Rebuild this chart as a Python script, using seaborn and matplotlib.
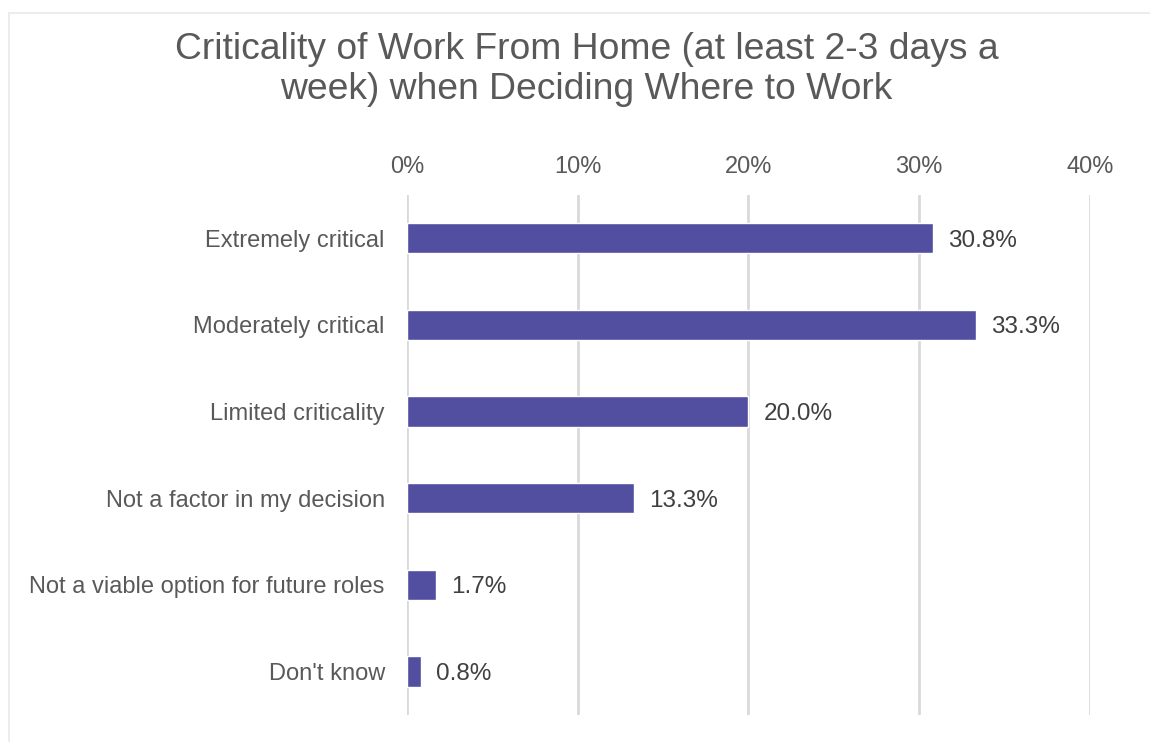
import matplotlib
matplotlib.use("Agg")
import matplotlib.pyplot as plt
import seaborn as sns
import pandas as pd
from matplotlib.patches import Rectangle

categories = ["Extremely critical", "Moderately critical", "Limited criticality",
              "Not a factor in my decision", "Not a viable option for future roles",
              "Don't know"]
values = [30.8, 33.3, 20.0, 13.3, 1.7, 0.8]
x_ticks = [0, 10, 20, 30, 40]
x_tick_labels = ["0%", "10%", "20%", "30%", "40%"]

df = pd.DataFrame({"category": categories, "value": values})

sns.set_style("white")
plt.rcParams['font.family'] = ['Liberation Sans', 'DejaVu Sans']

fig = plt.figure(figsize=(11.5, 7.42), dpi=100)
ax = fig.add_axes([0.3539, 0.0364, 0.5939, 0.7008])

sns.barplot(data=df, x="value", y="category", orient="h", color="#524FA1",
            saturation=1, width=0.35, ax=ax)

ax.set_xlim(0, 40)
ax.set_ylim(5.5, -0.5)
ax.set_xticks(x_ticks)
ax.set_xticklabels(x_tick_labels)
ax.xaxis.tick_top()
ax.tick_params(axis="x", length=0, pad=12, labelsize=17, labelcolor="#595959")
ax.tick_params(axis="y", length=0, pad=16, labelsize=17, labelcolor="#595959")
ax.set_xlabel("")
ax.set_ylabel("")
for s in ax.spines.values():
    s.set_visible(False)
ax.grid(axis="x", color="#d9d9d9", linewidth=2)
ax.set_axisbelow(True)

for i, v in enumerate(values):
    ax.text(v + 0.9, i, "{:.1f}%".format(v), va="center_baseline", ha="left",
            fontsize=17.5, color="#404040")

fig.text(0.51, 0.906, "Criticality of Work From Home (at least 2-3 days a\nweek) when Deciding Where to Work",
         ha="center", va="center", fontsize=26.8, color="#595959", linespacing=1.18)

# light frame around the chart
fig.patches.append(Rectangle((0.008, -0.01), 1.2, 0.993, transform=fig.transFigure,
                             fill=False, edgecolor="#ececec", linewidth=1.5))

fig.savefig("out.png", dpi=100)
